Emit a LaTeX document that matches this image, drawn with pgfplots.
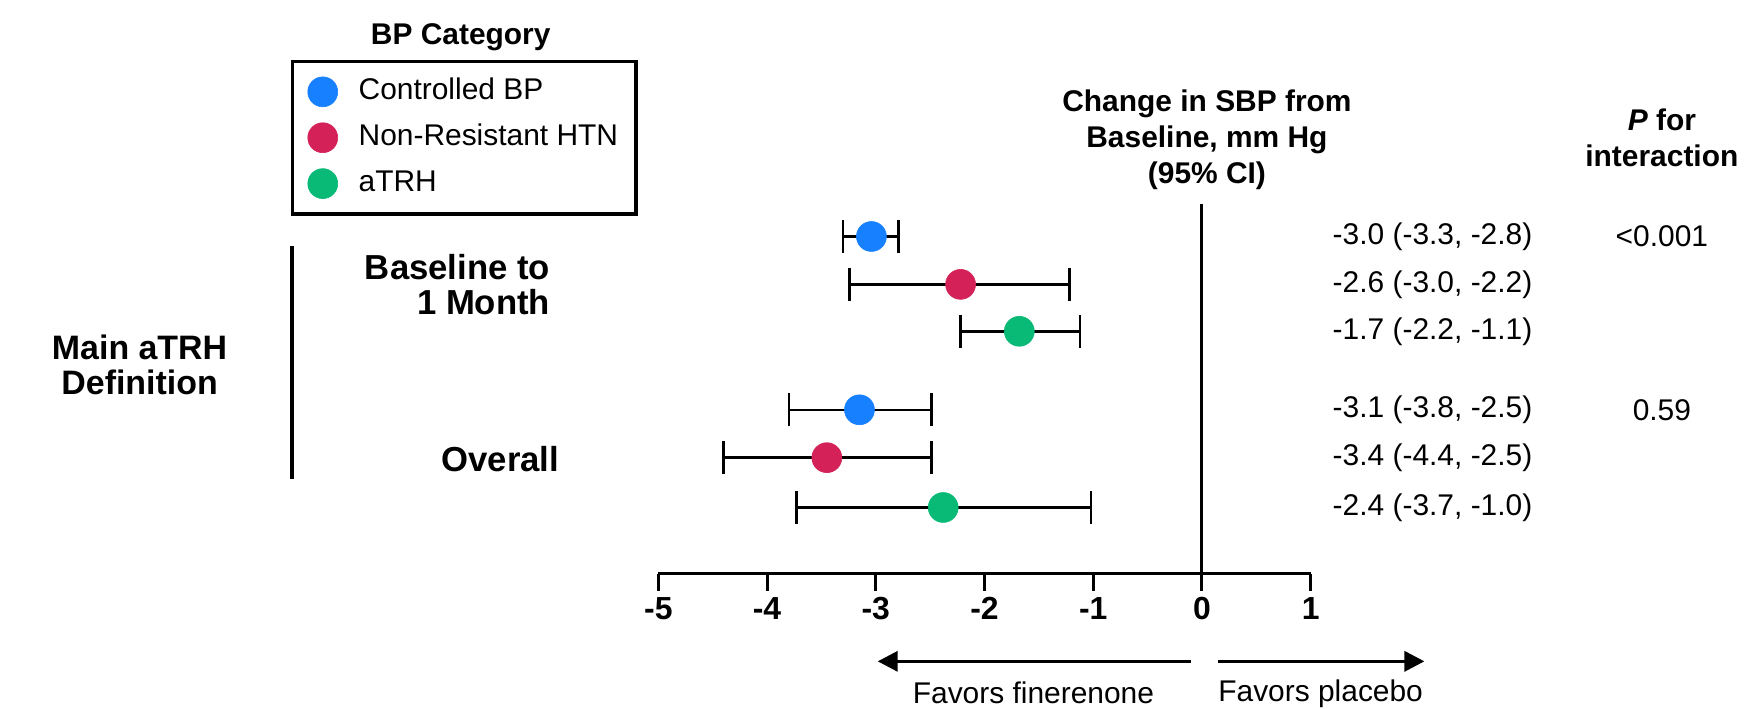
\documentclass[border=0pt]{standalone}
\usepackage{pgfplots}
\pgfplotsset{compat=1.18}
\usepackage{pgfplotstable}
\usepackage{fontspec}
\setmainfont{Liberation Sans}
\usetikzlibrary{arrows.meta}

\definecolor{cblue}{RGB}{22,128,255}
\definecolor{cred}{RGB}{212,34,88}
\definecolor{cgreen}{RGB}{8,186,118}

\newcommand\fn{\fontsize{15}{18}\selectfont}
\newcommand\fb{\fontsize{15}{18}\selectfont\bfseries}

% estimate, y position, CI distances
\pgfplotstableread{
x y em ep
-3.04 7.04 0.26 0.25
-3.15 3.42 0.65 0.66
}\tblue
\pgfplotstableread{
x y em ep
-2.22 6.04 1.02 1.00
-3.45 2.42 0.95 0.96
}\tred
\pgfplotstableread{
x y em ep
-1.68 5.06 0.54 0.56
-2.38 1.38 1.35 1.36
}\tgreen

\pgfplotsset{
  ebar/.style={
    color=#1, only marks, mark=*, mark size=7.5pt,
    mark options={fill=#1, draw=#1, line width=0.3pt},
    error bars/.cd, x dir=both, x explicit, error mark=|,
    error bar style={line width=1.3pt, black},
    error mark options={line width=1.3pt, black, mark size=8.25pt}
  }
}

\begin{document}
\begin{tikzpicture}
\begin{axis}[
  scale only axis, width=327pt, height=185pt,
  xmin=-5, xmax=1, ymin=0, ymax=7.708,
  axis x line=bottom, axis y line=none,
  axis line style={line width=1.5pt, -},
  x axis line style={-},
  xtick={-5,-4,-3,-2,-1,0,1},
  tick align=outside, major tick length=8.5pt,
  xtick style={line width=1.5pt, black},
  xticklabel style={font=\fontsize{16}{18}\selectfont\bfseries},
  /pgf/number format/assume math mode=true,
  clip=false,
  legend image code/.code={\path[draw=none] (0pt,-7pt) rectangle (16pt,7pt); \draw[#1] plot coordinates {(8pt,0pt)};},
  legend style={at={(axis description cs:-0.5627,1.392)}, anchor=north west,
    draw=black, line width=1.6pt, font=\fn, inner xsep=7pt, inner ysep=7.5pt,
    row sep=7.5pt, column sep=8pt,
    nodes={text height=10.5pt, text depth=3pt, inner ysep=1pt, inner xsep=2pt}},
  legend cell align=left,
]
\path (axis cs:-11.055,11.979) rectangle (axis cs:4.954,-2.8125);

\addplot[forget plot, black, line width=1.5pt, no markers] coordinates {(0,0) (0,7.708)};

\addplot[ebar=cblue] table[x=x, y=y, x error minus=em, x error plus=ep] {\tblue};
\addlegendentry{Controlled BP}
\addplot[ebar=cred] table[x=x, y=y, x error minus=em, x error plus=ep] {\tred};
\addlegendentry{Non-Resistant HTN}
\addplot[ebar=cgreen] table[x=x, y=y, x error minus=em, x error plus=ep] {\tgreen};
\addlegendentry{aTRH}

% legend title
\node[font=\fb] at (axis cs:-6.817,11.208) {BP Category};

% column headers
\node[font=\fb, align=center] at (axis cs:0.046,9.0625) {Change in SBP from\\Baseline, mm Hg\\(95\% CI)};
\node[font=\fontsize{15}{18.5}\selectfont\bfseries, align=center] at (axis cs:4.23,9.10) {\textit{P} for\\interaction};

% estimates text
\node[font=\fn, anchor=west] at (axis cs:1.138,7.04) {-3.0 (-3.3, -2.8)};
\node[font=\fn, anchor=west] at (axis cs:1.138,6.04) {-2.6 (-3.0, -2.2)};
\node[font=\fn, anchor=west] at (axis cs:1.138,5.06) {-1.7 (-2.2, -1.1)};
\node[font=\fn, anchor=west] at (axis cs:1.138,3.42) {-3.1 (-3.8, -2.5)};
\node[font=\fn, anchor=west] at (axis cs:1.138,2.42) {-3.4 (-4.4, -2.5)};
\node[font=\fn, anchor=west] at (axis cs:1.138,1.38) {-2.4 (-3.7, -1.0)};
\node[font=\fn] at (axis cs:4.23,7.04) {<0.001};
\node[font=\fn] at (axis cs:4.23,3.42) {0.59};

% group labels
\node[font=\fontsize{17.4}{17.5}\selectfont\bfseries, align=right, anchor=east, inner xsep=0pt] at (axis cs:-5.991,6.04) {Baseline to\\1 Month};
\node[font=\fontsize{17.4}{17.5}\selectfont\bfseries, anchor=east, inner xsep=0pt] at (axis cs:-5.908,2.396) {Overall};
\node[font=\fontsize{17}{17.5}\selectfont\bfseries, align=center] at (axis cs:-9.771,4.365) {Main aTRH\\Definition};
\draw[line width=2pt] (axis cs:-8.367,6.833) -- (axis cs:-8.367,1.979);

% direction arrows
\draw[line width=1.75pt, -{Triangle[length=10pt,width=10pt]}] (axis cs:-0.101,-1.833) -- (axis cs:-2.982,-1.833);
\draw[line width=1.75pt, -{Triangle[length=10pt,width=10pt]}] (axis cs:0.147,-1.833) -- (axis cs:2.046,-1.833);
\node[font=\fn, inner sep=0pt] at (axis cs:-1.55,-2.5) {Favors finerenone};
\node[font=\fn, anchor=west, inner sep=0pt] at (axis cs:0.147,-2.5) {Favors placebo};
\end{axis}
\end{tikzpicture}
\end{document}
